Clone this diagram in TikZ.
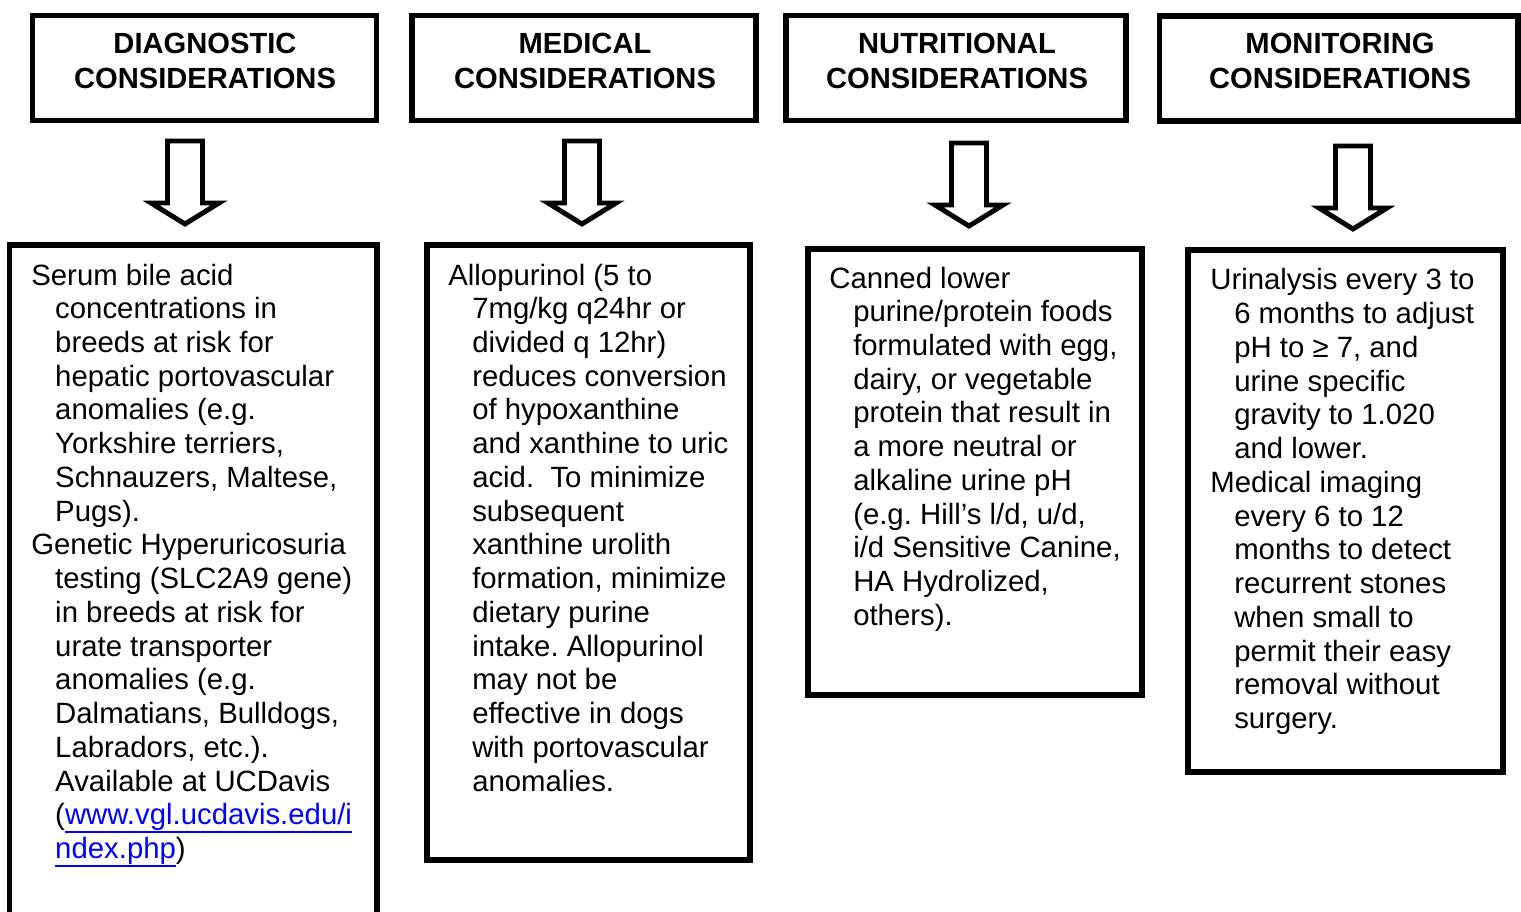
\documentclass[tikz,border=0pt]{standalone}
\usepackage{fontspec}
\setmainfont{Liberation Sans}
\usetikzlibrary{fit}
\frenchspacing
\newcommand{\ind}{\hspace*{13.6pt}}
\newcommand{\lnk}[1]{{\color{blue}\setbox0=\hbox{#1}\rlap{\rule[-4.8pt]{\wd0}{1.1pt}}\box0}}
\newcommand{\blockarrow}[4]{%
  \draw[blockarr] ({#1-17.5},#2) -- ({#1+17.5},#2) -- ({#1+17.5},#3) -- ({#1+34},#3)
    -- (#1,#4) -- ({#1-34},#3) -- ({#1-17.5},#3) -- cycle;}
\begin{document}
\begin{tikzpicture}[x=0.02cm,y=-0.02cm,
  box/.style={draw,line width=3.1pt,inner sep=0pt},
  hdrtext/.style={inner sep=0pt,anchor=base,font={\fontsize{16.6}{19.8}\selectfont\bfseries}},
  bodytext/.style={inner sep=0pt,anchor=base west,font={\fontsize{16.7}{19.2}\selectfont\frenchspacing}},
  blockarr/.style={draw,line width=2.8pt,fill=white,line join=miter}]
\useasboundingbox (0,0) rectangle (1521,912);
\fill[white] (0,0) rectangle (1521,912);

% header boxes
\node[box,fit={(32.5,15.5) (376.5,120.5)}] (h1) {};
\node[box,fit={(412,15.5) (756,120.5)}] (h2) {};
\node[box,fit={(786,15.5) (1126,120.5)}] (h3) {};
\node[box,fit={(1159.5,16) (1518,121)}] (h4) {};

\node[hdrtext] (t1) at (205,53.5) {\begin{tabular}[t]{@{}c@{}}DIAGNOSTIC\\CONSIDERATIONS\end{tabular}};
\node[hdrtext] (t2) at (585,53.5) {\begin{tabular}[t]{@{}c@{}}MEDICAL\\CONSIDERATIONS\end{tabular}};
\node[hdrtext] (t3) at (957,53.5) {\begin{tabular}[t]{@{}c@{}}NUTRITIONAL\\CONSIDERATIONS\end{tabular}};
\node[hdrtext] (t4) at (1340,53.5) {\begin{tabular}[t]{@{}c@{}}MONITORING\\CONSIDERATIONS\end{tabular}};

% body boxes
\node[box,fit={(9.5,245) (377,945)}] (b1) {};
\node[box,fit={(427,245) (750,860)}] (b2) {};
\node[box,fit={(808,249) (1142,695)}] (b3) {};
\node[box,fit={(1188,250) (1503,772)}] (b4) {};

% block arrows
\blockarrow{185}{141}{203}{224}
\blockarrow{582}{141}{203}{224}
\blockarrow{969}{143}{205}{226}
\blockarrow{1353}{146}{208}{229}

% body texts
\node[bodytext] (s1) at (31,285) {\begin{tabular}[t]{@{}l@{}}
Serum bile acid\\
\ind concentrations in\\
\ind breeds at risk for\\
\ind hepatic portovascular\\
\ind anomalies (e.g.\\
\ind Yorkshire terriers,\\
\ind Schnauzers, Maltese,\\
\ind Pugs).\\
Genetic Hyperuricosuria\\
\ind testing (SLC2A9 gene)\\
\ind in breeds at risk for\\
\ind urate transporter\\
\ind anomalies (e.g.\\
\ind Dalmatians, Bulldogs,\\
\ind Labradors, etc.).\\
\ind Available at UCDavis\\
\ind (\lnk{www.vgl.ucdavis.edu/i}\\
\ind \lnk{ndex.php})
\end{tabular}};

\node[bodytext] (s2) at (448,285) {\begin{tabular}[t]{@{}l@{}}
Allopurinol (5 to\\
\ind 7mg/kg q24hr or\\
\ind divided q 12hr)\\
\ind reduces conversion\\
\ind of hypoxanthine\\
\ind and xanthine to uric\\
\ind acid.\ \ To minimize\\
\ind subsequent\\
\ind xanthine urolith\\
\ind formation, minimize\\
\ind dietary purine\\
\ind intake. Allopurinol\\
\ind may not be\\
\ind effective in dogs\\
\ind with portovascular\\
\ind anomalies.
\end{tabular}};

\node[bodytext] (s3) at (829,288) {\begin{tabular}[t]{@{}l@{}}
Canned lower\\
\ind purine/protein foods\\
\ind formulated with egg,\\
\ind dairy, or vegetable\\
\ind protein that result in\\
\ind a more neutral or\\
\ind alkaline urine pH\\
\ind (e.g. Hill’s l/d, u/d,\\
\ind i/d Sensitive Canine,\\
\ind HA Hydrolized,\\
\ind others).
\end{tabular}};

\node[bodytext] (s4) at (1210,290) {\begin{tabular}[t]{@{}l@{}}
Urinalysis every 3 to\\
\ind 6 months to adjust\\
\ind pH to ≥ 7, and\\
\ind urine specific\\
\ind gravity to 1.020\\
\ind and lower.\\
Medical imaging\\
\ind every 6 to 12\\
\ind months to detect\\
\ind recurrent stones\\
\ind when small to\\
\ind permit their easy\\
\ind removal without\\
\ind surgery.
\end{tabular}};
\end{tikzpicture}
\end{document}
